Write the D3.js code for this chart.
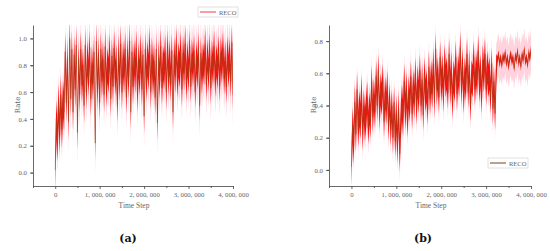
<!DOCTYPE html>
<html>
<head>
<meta charset="utf-8">
<script src="https://cdn.jsdelivr.net/npm/d3@7"></script>
<style>
  body { margin: 0; background: #fff; }
  svg { display: block; font-family: 'Liberation Serif', 'DejaVu Serif', serif; }
</style>
</head>
<body>
<div id="chart"></div>
<script>
'use strict';

// time steps shared by both panels, one sample every 25,000 steps
const steps = d3.range(0, 4000001, 25000);

// panel (a) mean rate
const rateA = [
  0.02, 0.40, 0.22, 0.52, 0.28, 0.58, 0.32, 0.55, 0.45,
  0.90, 0.52, 0.85, 0.38, 1.00, 0.55, 0.92, 0.45, 0.88, 0.62, 0.95, 0.30,
  0.85, 0.58, 0.92, 0.65, 0.80, 0.50, 0.95, 0.60, 0.86, 0.70, 0.93, 0.55, 0.82, 0.66, 0.90, 0.22, 0.98, 0.60, 0.88, 0.52,
  0.92, 0.68, 0.85, 0.58, 0.94, 0.62, 0.80, 0.72, 0.91, 0.55, 0.87, 0.64, 0.93, 0.70, 0.83, 0.50, 0.90, 0.66, 0.96, 0.60,
  0.85, 0.72, 0.92, 0.56, 0.88, 0.68, 0.98, 0.45, 0.90, 0.64, 0.86, 0.72, 0.93, 0.58, 0.84, 0.70, 0.91, 0.62, 0.88, 0.42,
  0.92, 0.66, 0.85, 0.74, 0.95, 0.60, 0.88, 0.70, 0.83, 0.56, 0.92, 0.37, 0.86, 0.68, 0.94, 0.63, 0.82, 0.75, 0.90, 0.60,
  0.93, 0.70, 0.86, 0.66, 0.91, 0.45, 0.88, 0.72, 0.95, 0.68, 0.84, 0.76, 0.92, 0.62, 0.89, 0.74, 0.96, 0.66, 0.85, 0.72,
  0.94, 0.64, 0.88, 0.76, 0.91, 0.60, 0.86, 0.74, 0.93, 0.50, 0.89, 0.70, 0.85, 0.77, 0.95, 0.66, 0.88, 0.72, 0.92, 0.63,
  0.87, 0.76, 0.94, 0.68, 0.84, 0.74, 0.91, 0.65, 0.89, 0.78, 0.93, 0.70, 0.86, 0.64, 0.90, 0.75, 0.88, 0.68, 0.97, 0.58
];

// panel (a) red (inner) and pink (outer) half-widths, one value per 250,000-step block
const innerA = [0.14, 0.14, 0.13, 0.13, 0.13, 0.13, 0.13, 0.13, 0.13, 0.13, 0.13, 0.13, 0.12, 0.12, 0.12, 0.12, 0.12];
const outerA = [0.22, 0.24, 0.24, 0.24, 0.24, 0.24, 0.24, 0.24, 0.24, 0.24, 0.24, 0.24, 0.24, 0.24, 0.24, 0.24, 0.24];

// panel (b) mean rate
const rateB = [
  0.02, 0.28, 0.15, 0.42, 0.22, 0.50, 0.25, 0.38, 0.30, 0.48, 0.22, 0.40, 0.28, 0.35, 0.45, 0.26, 0.38, 0.30, 0.55, 0.33, 0.47,
  0.36, 0.58, 0.40, 0.62, 0.35, 0.50, 0.44, 0.56, 0.30, 0.48, 0.38, 0.52, 0.28, 0.44, 0.25, 0.40, 0.20, 0.42, 0.18, 0.35,
  0.15, 0.38, 0.10, 0.30, 0.42, 0.32, 0.55, 0.36, 0.50, 0.30, 0.48, 0.40, 0.58, 0.35, 0.52, 0.42, 0.60, 0.38, 0.55, 0.45,
  0.62, 0.40, 0.56, 0.34, 0.60, 0.46, 0.52, 0.38, 0.64, 0.44, 0.58, 0.48, 0.66, 0.42, 0.75, 0.50, 0.60, 0.45, 0.70, 0.52,
  0.62, 0.46, 0.68, 0.55, 0.60, 0.48, 0.72, 0.50, 0.64, 0.42, 0.58, 0.52, 0.70, 0.47, 0.62, 0.55, 0.76, 0.50, 0.66, 0.45,
  0.60, 0.53, 0.72, 0.48, 0.65, 0.40, 0.58, 0.55, 0.70, 0.50, 0.63, 0.56, 0.74, 0.52, 0.62, 0.45, 0.68, 0.58, 0.72, 0.50,
  0.64, 0.55, 0.60, 0.45, 0.66, 0.38, 0.55, 0.35, 0.62, 0.68, 0.72, 0.66, 0.70, 0.65, 0.71, 0.68, 0.73, 0.66, 0.70, 0.64,
  0.69, 0.72, 0.67, 0.70, 0.63, 0.71, 0.68, 0.74, 0.66, 0.70, 0.64, 0.72, 0.68, 0.75, 0.67, 0.70, 0.65, 0.73, 0.69, 0.75
];

// panel (b) red (inner) and pink (outer) half-widths, one value per 250,000-step block
const innerB = [0.11, 0.10, 0.10, 0.10, 0.11, 0.10, 0.10, 0.10, 0.10, 0.10, 0.10, 0.10, 0.10, 0.025, 0.025, 0.025, 0.025];
const outerB = [0.16, 0.16, 0.16, 0.16, 0.17, 0.16, 0.16, 0.16, 0.16, 0.16, 0.16, 0.16, 0.16, 0.13, 0.13, 0.13, 0.13];

// tick values
const xTicks = [0, 1000000, 2000000, 3000000, 4000000];
const xMinorTicks = [-500000, 500000, 1500000, 2500000, 3500000];
const yTicksA = [0, 0.2, 0.4, 0.6, 0.8, 1.0];
const yTicksB = [0, 0.2, 0.4, 0.6, 0.8];
const seriesName = 'RECO';

const width = 550;
const height = 251;

const svg = d3.select('#chart')
  .append('svg')
    .attr('width', width)
    .attr('height', height);

/** turns 1000000 into "1, 000, 000" like the original labels */
const fmtStep = d => d3.format(',')(d).replace(/,/g, ', ');

/**
 * draw one panel
 * @param {object} p - layout and data for the panel
 */
function drawPanel (p) {
  const x = d3.scaleLinear().domain([-500000, 4000000]).range([p.left, p.right]);
  const y = d3.scaleLinear().domain(p.yDomain).range([p.bottom, p.top]);

  const block = s => Math.min(Math.floor(s / 250000), p.inner.length - 1);
  const rows = steps.map((s, i) => ({
    s: s,
    v: p.rate[i],
    inner: p.inner[block(s)],
    outer: p.outer[block(s)]
  }));

  const clipId = 'clip' + p.id;
  svg.append('clipPath').attr('id', clipId)
    .append('rect')
      .attr('x', p.left).attr('y', p.top)
      .attr('width', p.right - p.left).attr('height', p.bottom - p.top);

  const g = svg.append('g').attr('clip-path', `url(#${clipId})`);

  // outer light band
  g.append('path')
    .datum(rows)
    .attr('fill', '#ffa8bc')
    .attr('opacity', 0.5)
    .attr('d', d3.area()
      .x(d => x(d.s))
      .y0(d => y(d.v - d.outer))
      .y1(d => y(d.v + d.outer)));

  // inner red band
  g.append('path')
    .datum(rows)
    .attr('fill', '#ff0000')
    .attr('opacity', 0.95)
    .attr('d', d3.area()
      .x(d => x(d.s))
      .y0(d => y(d.v - d.inner))
      .y1(d => y(d.v + d.inner)));

  // mean line
  g.append('path')
    .datum(rows)
    .attr('fill', 'none')
    .attr('stroke', '#86521e')
    .attr('stroke-width', 0.45)
    .attr('d', d3.line().x(d => x(d.s)).y(d => y(d.v)));

  // x axis
  svg.append('g')
    .attr('transform', `translate(0,${p.bottom})`)
    .call(d3.axisBottom(x).tickValues(xTicks).tickFormat(fmtStep).tickSize(3).tickSizeOuter(0));
  svg.append('g')
    .attr('transform', `translate(0,${p.bottom})`)
    .call(d3.axisBottom(x).tickValues(xMinorTicks).tickFormat('').tickSize(2).tickSizeOuter(0))
    .select('.domain').remove();

  // y axis
  const yMinor = d3.range(p.yDomain[0] + 0.1, p.yDomain[1] + 0.001, 0.2);
  svg.append('g')
    .attr('transform', `translate(${p.left},0)`)
    .call(d3.axisLeft(y).tickValues(p.yTicks).tickFormat(d3.format('.1f')).tickSize(3).tickSizeOuter(0));
  svg.append('g')
    .attr('transform', `translate(${p.left},0)`)
    .call(d3.axisLeft(y).tickValues(yMinor).tickFormat('').tickSize(2).tickSizeOuter(0))
    .select('.domain').remove();

  svg.selectAll('.tick text')
    .attr('font-family', 'Liberation Serif, serif')
    .attr('font-size', 6.8)
    .attr('fill', '#666');
  svg.selectAll('.domain, .tick line').attr('stroke', '#444').attr('stroke-width', 0.8);

  // axis titles
  svg.append('text')
    .attr('transform', `translate(${p.left - 13},105) rotate(-90)`)
    .attr('text-anchor', 'middle')
    .attr('font-family', 'DejaVu Serif, serif')
    .attr('font-size', 7)
    .attr('fill', '#666')
    .text('Rate');
  svg.append('text')
    .attr('x', Math.round((x(0) + x(4000000)) / 2 - 10))
    .attr('y', p.bottom + 22)
    .attr('text-anchor', 'middle')
    .attr('font-size', 7.5)
    .attr('fill', '#666')
    .text('Time Step');

  // panel letter
  svg.append('text')
    .attr('x', p.letterX)
    .attr('y', 242)
    .attr('text-anchor', 'middle')
    .attr('font-family', 'DejaVu Serif, serif')
    .attr('font-weight', 'bold')
    .attr('font-size', 11)
    .attr('fill', '#111')
    .text(p.letter);

  // legend
  const lg = svg.append('g').attr('transform', `translate(${p.legend[0]},${p.legend[1]})`);
  lg.append('rect')
    .attr('width', 40).attr('height', 10)
    .attr('fill', '#fff').attr('stroke', '#ccc').attr('stroke-width', 0.6);
  lg.append('line')
    .attr('x1', 2).attr('x2', 18).attr('y1', 5).attr('y2', 5)
    .attr('stroke', p.legendColor).attr('stroke-width', 1.4);
  lg.append('text')
    .attr('x', 21).attr('y', 7.5)
    .attr('font-size', 6.5)
    .attr('fill', '#666')
    .text(seriesName);
}

drawPanel({
  id: 'A', left: 33, right: 233, top: 25, bottom: 186,
  yDomain: [-0.1, 1.1], yTicks: yTicksA,
  rate: rateA, inner: innerA, outer: outerA,
  letter: '(a)', letterX: 128,
  legend: [198, 7], legendColor: '#f07878'
});

drawPanel({
  id: 'B', left: 329, right: 531, top: 25, bottom: 186,
  yDomain: [-0.1, 0.9], yTicks: yTicksB,
  rate: rateB, inner: innerB, outer: outerB,
  letter: '(b)', letterX: 423,
  legend: [488, 158], legendColor: '#a0785a'
});
</script>
</body>
</html>
